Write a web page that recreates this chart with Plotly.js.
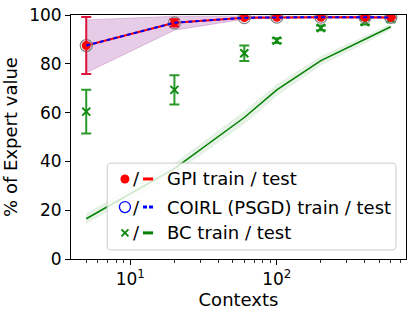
<!DOCTYPE html>
<html>
<head>
<meta charset="utf-8">
<script src="https://cdn.plot.ly/plotly-3.0.1.min.js"></script>
<style>html,body{margin:0;padding:0;background:#fff;}#chart{width:412px;height:315px;}</style>
</head>
<body>
<div id="chart"></div>
<script>
// Data
const contexts = [5, 20, 60, 100, 200, 400, 600];
const gpiTrain = [87.5, 96.8, 98.9, 99.1, 99.1, 99.1, 99.0];
const gpiTrainErr = [11.7, 1.5, 0.4, 0.3, 0.3, 0.3, 0.3];
const gpiTest = [87.5, 96.8, 98.9, 99.1, 99.1, 99.1, 99.0];
const gpiTestUpper = [98.0, 99.5, 99.5, 99.5, 99.5, 99.5, 99.5];
const gpiTestLower = [76.3, 93.8, 98.3, 98.7, 98.7, 98.7, 98.5];
const coirlTrain = [87.5, 96.8, 98.9, 99.1, 99.1, 99.1, 99.0];
const coirlTest = [87.5, 96.8, 98.9, 99.1, 99.1, 99.1, 99.0];
const bcTrain = [60.4, 69.3, 84.3, 89.5, 94.7, 97.1, 98.3];
const bcTrainErr = [9.0, 6.0, 3.2, 1.0, 1.0, 1.0, 1.0];
const bcTest = [16.5, 37.0, 58.0, 69.3, 81.3, 90.0, 95.2];
const bcTestUpper = [18.5, 39.0, 60.5, 71.5, 83.0, 91.5, 96.2];
const bcTestLower = [14.5, 35.0, 55.5, 67.0, 79.5, 88.5, 94.2];
const yTicks = [0, 20, 40, 60, 80, 100];
const xTickVals = [10, 100];
const xTickText = ['10<sup>1</sup>', '10<sup>2</sup>'];
const xMinor = [5,6,7,8,9,20,30,40,50,60,70,80,90,200,300,400,500,600,700];
const legendLabels = ['GPI train / test', 'COIRL (PSGD) train / test', 'BC train / test'];

const tickFont = {family: 'DejaVu Sans', size: 17, color: '#000'};
const titleFont = {family: 'DejaVu Sans', size: 18, color: '#000'};
const legFont = {family: 'DejaVu Sans', size: 18, color: '#000'};

const traces = [
  // GPI test band
  {x: contexts, y: gpiTestUpper, mode: 'lines', line: {width: 0.8, color: 'rgba(128,0,128,0.25)'}, hoverinfo: 'skip', showlegend: false},
  {x: contexts, y: gpiTestLower, mode: 'lines', fill: 'tonexty', fillcolor: 'rgba(128,0,128,0.2)', line: {width: 0.8, color: 'rgba(128,0,128,0.25)'}, hoverinfo: 'skip', showlegend: false},
  // BC test band
  {x: contexts, y: bcTestUpper, mode: 'lines', line: {width: 0.5, color: 'rgba(0,128,0,0.12)'}, hoverinfo: 'skip', showlegend: false},
  {x: contexts, y: bcTestLower, mode: 'lines', fill: 'tonexty', fillcolor: 'rgba(0,128,0,0.1)', line: {width: 0.5, color: 'rgba(0,128,0,0.12)'}, hoverinfo: 'skip', showlegend: false},
  // BC test line
  {x: contexts, y: bcTest, mode: 'lines', line: {color: '#008000', width: 1.5}, showlegend: false},
  // BC train
  {x: contexts, y: bcTrain, mode: 'markers', marker: {symbol: 'x-thin', size: 8, line: {width: 2, color: '#118a11'}, color: '#118a11'},
   error_y: {type: 'data', array: bcTrainErr, visible: true, color: '#2a9a2a', thickness: 2, width: 5}, showlegend: false},
  // GPI test line
  {x: contexts, y: gpiTest, mode: 'lines', line: {color: 'red', width: 2}, showlegend: false},
  // COIRL train
  {x: contexts, y: coirlTrain, mode: 'markers', marker: {symbol: 'circle-open', size: 12, line: {width: 1.2, color: 'blue'}}, showlegend: false},
  // GPI train
  {x: contexts, y: gpiTrain, mode: 'markers', marker: {symbol: 'circle', size: 9, color: 'red'},
   error_y: {type: 'data', array: gpiTrainErr, visible: true, color: '#dc143c', thickness: 2, width: 5}, showlegend: false},
  // COIRL test line
  {x: contexts, y: coirlTest, mode: 'lines', line: {color: 'blue', width: 2, dash: '4px,3px'}, showlegend: false}
];

// Legend drawn with shapes + annotations (paper coords)
const rowY = [0.328, 0.213, 0.107];
const mx = 0.161, slashX = 0.197, lx0 = 0.215, lx1 = 0.245, tx = 0.280;
const shapes = [
  {type: 'path', xref: 'paper', yref: 'paper', layer: 'above',
   path: 'M 0.120 0.037 L 0.958 0.037 Q 0.970 0.037 0.970 0.053 L 0.970 0.377 Q 0.970 0.393 0.958 0.393 L 0.120 0.393 Q 0.108 0.393 0.108 0.377 L 0.108 0.053 Q 0.108 0.037 0.120 0.037 Z',
   fillcolor: 'rgba(255,255,255,0.8)', line: {color: '#cccccc', width: 1}}
];
// GPI: red dot, red solid line
shapes.push({type: 'circle', xref: 'paper', yref: 'paper', layer: 'above', xsizemode: 'pixel', ysizemode: 'pixel',
  xanchor: mx, yanchor: rowY[0], x0: -4.5, x1: 4.5, y0: -4.5, y1: 4.5, fillcolor: 'red', line: {width: 0}});
shapes.push({type: 'line', xref: 'paper', yref: 'paper', layer: 'above', x0: lx0, x1: lx1, y0: rowY[0], y1: rowY[0], line: {color: 'red', width: 3}});
// COIRL: blue open circle, blue dashed line
shapes.push({type: 'circle', xref: 'paper', yref: 'paper', layer: 'above', xsizemode: 'pixel', ysizemode: 'pixel',
  xanchor: mx, yanchor: rowY[1], x0: -5.5, x1: 5.5, y0: -5.5, y1: 5.5, fillcolor: 'rgba(0,0,0,0)', line: {color: 'blue', width: 1.3}});
shapes.push({type: 'line', xref: 'paper', yref: 'paper', layer: 'above', x0: lx0, x1: lx1, y0: rowY[1], y1: rowY[1], line: {color: 'blue', width: 3, dash: '4px,2px'}});
// BC: green x, green line
shapes.push({type: 'line', xref: 'paper', yref: 'paper', layer: 'above', xsizemode: 'pixel', ysizemode: 'pixel',
  xanchor: mx, yanchor: rowY[2], x0: -3.5, x1: 3.5, y0: -3.5, y1: 3.5, line: {color: '#118a11', width: 2}});
shapes.push({type: 'line', xref: 'paper', yref: 'paper', layer: 'above', xsizemode: 'pixel', ysizemode: 'pixel',
  xanchor: mx, yanchor: rowY[2], x0: -3.5, x1: 3.5, y0: 3.5, y1: -3.5, line: {color: '#118a11', width: 2}});
shapes.push({type: 'line', xref: 'paper', yref: 'paper', layer: 'above', x0: lx0, x1: lx1, y0: rowY[2], y1: rowY[2], line: {color: '#008000', width: 3}});

const annotations = [];
for (let i = 0; i < 3; i++) {
  annotations.push({xref: 'paper', yref: 'paper', x: slashX, y: rowY[i], text: '/', showarrow: false, xanchor: 'center', yanchor: 'middle', font: legFont});
  annotations.push({xref: 'paper', yref: 'paper', x: tx, y: rowY[i], text: legendLabels[i], showarrow: false, xanchor: 'left', yanchor: 'middle', font: legFont});
}

const layout = {
  width: 412, height: 315,
  margin: {l: 71, r: 6, t: 15, b: 56, pad: 0},
  paper_bgcolor: '#fff', plot_bgcolor: '#fff',
  font: tickFont,
  showlegend: false,
  xaxis: {
    type: 'log', range: [0.595, 2.882],
    tickmode: 'array', tickvals: xTickVals, ticktext: xTickText,
    ticks: 'outside', ticklen: 5, tickwidth: 1, tickcolor: '#000',
    minor: {tickmode: 'array', tickvals: xMinor, ticks: 'outside', ticklen: 3, tickwidth: 0.8, tickcolor: '#000', showgrid: false},
    showline: true, linecolor: '#000', linewidth: 1, mirror: true,
    showgrid: false, zeroline: false,
    tickfont: tickFont,
    title: {text: 'Contexts', font: titleFont, standoff: 4}
  },
  yaxis: {
    range: [0, 100], tickmode: 'array', tickvals: yTicks,
    ticks: 'outside', ticklen: 5, tickwidth: 1, tickcolor: '#000',
    showline: true, linecolor: '#000', linewidth: 1, mirror: true,
    showgrid: false, zeroline: false,
    tickfont: tickFont,
    title: {text: '% of Expert value', font: titleFont, standoff: 6}
  },
  shapes: shapes,
  annotations: annotations
};

Plotly.newPlot('chart', traces, layout, {displayModeBar: false, staticPlot: true});
</script>
</body>
</html>
